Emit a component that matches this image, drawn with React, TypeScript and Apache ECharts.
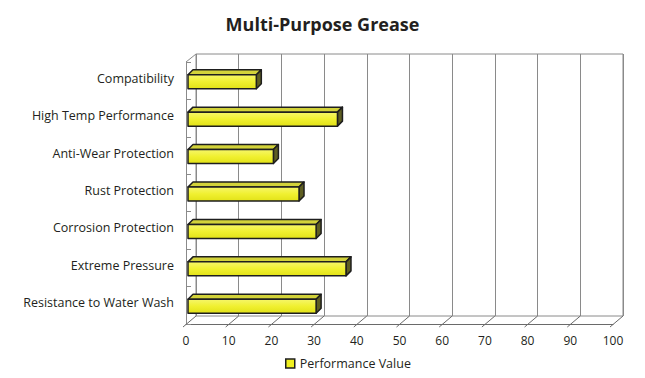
import React, { useEffect, useRef } from "react";
import * as echarts from "echarts";

const categories = [
  "Compatibility",
  "High Temp Performance",
  "Anti-Wear Protection",
  "Rust Protection",
  "Corrosion Protection",
  "Extreme Pressure",
  "Resistance to Water Wash",
];
const values = [16, 35, 20, 26, 30, 37, 30];
const xTicks = [0, 10, 20, 30, 40, 50, 60, 70, 80, 90, 100];
const seriesName = "Performance Value";
const title = "Multi-Purpose Grease";

const FONT = "'Open Sans', sans-serif";
const DX = 10;
const DY = -8;

export default function App() {
  const ref = useRef<HTMLDivElement>(null);
  useEffect(() => {
    if (!ref.current) return;
    const chart = echarts.init(ref.current, null, { renderer: "svg" });
    const stroke = "#1e1e1e";
    const option: any = {
      animation: false,
      backgroundColor: "#ffffff",
      title: {
        text: title,
        left: "center",
        top: 10,
        textStyle: { fontFamily: FONT, fontWeight: 700, fontSize: 18, color: "#231f20" },
      },
      legend: {
        top: 352,
        left: 280,
        itemWidth: 9,
        itemHeight: 9,
        itemGap: 6,
        icon: "rect",
        data: [
          {
            name: seriesName,
            itemStyle: { color: "#f0f020", borderColor: stroke, borderWidth: 1.5 },
          },
        ],
        textStyle: { fontFamily: FONT, fontSize: 12.5, color: "#231f20" },
      },
      grid: [
        { left: 196, top: 54, width: 427, height: 262, show: true, borderColor: "#8a8a8a", borderWidth: 1 },
        { left: 186, top: 62, width: 427, height: 262 },
      ],
      xAxis: [
        {
          gridIndex: 0,
          type: "value",
          min: 0,
          max: 100,
          interval: 10,
          axisLine: { show: false },
          axisTick: { show: false },
          axisLabel: { show: false },
          splitLine: { show: true, lineStyle: { color: "#8a8a8a", width: 1 } },
        },
        {
          gridIndex: 1,
          type: "value",
          min: 0,
          max: 100,
          interval: 10,
          axisLine: { show: true, lineStyle: { color: "#6a6a6a", width: 1 } },
          axisTick: { show: false },
          splitLine: { show: false },
          axisLabel: { margin: 10, fontFamily: FONT, fontSize: 12, color: "#231f20" },
        },
      ],
      yAxis: [
        {
          gridIndex: 0,
          type: "category",
          data: categories,
          inverse: true,
          axisLine: { show: false },
          axisTick: { show: false },
          axisLabel: { show: false },
          splitLine: { show: false },
        },
        {
          gridIndex: 1,
          type: "category",
          data: categories,
          inverse: true,
          axisLine: { show: true, lineStyle: { color: "#8a8a8a", width: 1 } },
          axisTick: { show: true, inside: true, length: 5, lineStyle: { color: "#8a8a8a" } },
          axisLabel: {
            margin: 12,
            formatter: (v: string) => `{a|${v}}`,
            rich: {
              a: {
                padding: [0, 0, 5, 0],
                fontFamily: FONT,
                fontSize: 12.5,
                color: "#231f20",
              },
            },
          },
          splitLine: { show: false },
        },
      ],
      series: [
        {
          type: "custom",
          name: "floor",
          xAxisIndex: 1,
          yAxisIndex: 1,
          silent: true,
          z: 1,
          encode: { x: 0, y: 1 },
          data: xTicks.map((t) => [t, 0]),
          renderItem: (params: any, api: any) => {
            const x = api.coord([api.value(0), 0])[0];
            const cs = params.coordSys;
            const bottom = cs.y + cs.height;
            const children: any[] = [
              {
                type: "line",
                shape: { x1: x - 3, y1: bottom + 3, x2: x + DX, y2: bottom + DY },
                style: { stroke: "#6a6a6a", lineWidth: 1 },
              },
            ];
            if (params.dataIndex === 0) {
              children.push({
                type: "line",
                shape: { x1: cs.x, y1: cs.y, x2: cs.x + DX, y2: cs.y + DY },
                style: { stroke: "#8a8a8a", lineWidth: 1 },
              });
            }
            return { type: "group", children };
          },
        },
        {
          type: "custom",
          name: seriesName,
          xAxisIndex: 1,
          yAxisIndex: 1,
          z: 3,
          encode: { x: 0, y: 1 },
          data: values.map((v, i) => [v, i]),
          renderItem: (params: any, api: any) => {
            const v = api.value(0);
            const i = api.value(1);
            const p0 = api.coord([0, i]);
            const p1 = api.coord([v, i]);
            const h = 14;
            const d = 5;
            const x0 = p0[0] + 2;
            const x1 = p1[0] + 2;
            const y0 = p0[1] - h / 2 + 1;
            const st = { stroke, lineWidth: 1.5, lineJoin: "round" };
            return {
              type: "group",
              children: [
                {
                  type: "polygon",
                  shape: { points: [[x0, y0], [x0 + d, y0 - d], [x1 + d, y0 - d], [x1, y0]] },
                  style: { ...st, fill: "#d2d23a" },
                },
                {
                  type: "polygon",
                  shape: { points: [[x1, y0], [x1 + d, y0 - d], [x1 + d, y0 + h - d], [x1, y0 + h]] },
                  style: { ...st, fill: "#5e5e22" },
                },
                {
                  type: "rect",
                  shape: { x: x0, y: y0, width: x1 - x0, height: h },
                  style: {
                    ...st,
                    fill: new echarts.graphic.LinearGradient(0, 0, 0, 1, [
                      { offset: 0, color: "#f6f66a" },
                      { offset: 0.5, color: "#f0f030" },
                      { offset: 1, color: "#e2e218" },
                    ]),
                  },
                },
              ],
            };
          },
        },
      ],
    };
    chart.setOption(option);
    return () => chart.dispose();
  }, []);
  return (
    <div
      ref={ref}
      style={{ position: "fixed", left: 0, top: 0, width: 645, height: 378 }}
    />
  );
}
